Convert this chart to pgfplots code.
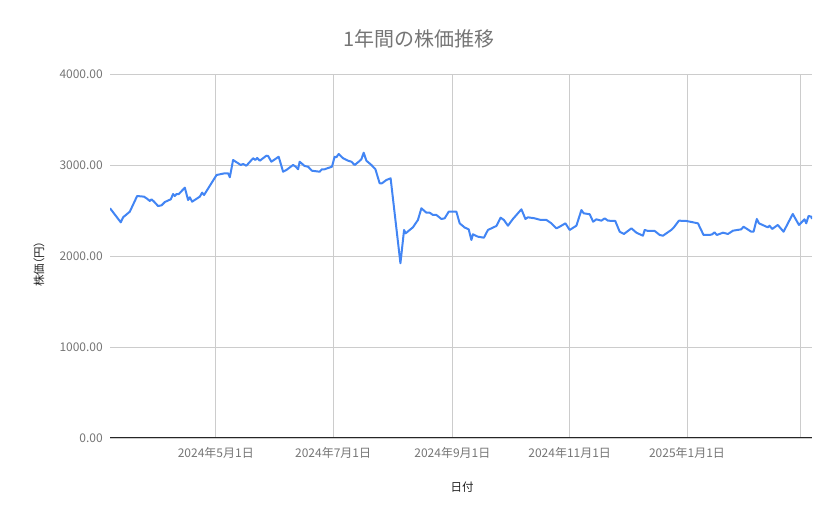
\documentclass[border=0pt]{standalone}
\usepackage{fontspec}
\setmainfont{Noto Sans CJK JP}
\newfontfamily\cjkp[RawFeature=+palt]{Noto Sans CJK JP}
\usepackage{pgfplots}
\pgfplotsset{compat=1.18}
\usepackage{pgfplotstable}

\definecolor{lineblue}{HTML}{4285F4}
\definecolor{ticktext}{HTML}{757575}
\definecolor{gridgray}{HTML}{CCCCCC}
\definecolor{labeltext}{HTML}{222222}

% day = days since 2024-03-07, price in yen
\pgfplotstableread{
day price
0 2525
5.6 2370
6.8 2425
10.3 2487
14.1 2659
17.7 2652
19.5 2626
20.7 2604
21.6 2623
22.9 2597
25.0 2549
26.8 2557
28.5 2593
31.6 2623
32.8 2681
33.7 2659
34.6 2681
35.8 2681
38.9 2751
40.6 2615
41.5 2645
42.7 2597
46.7 2652
47.9 2696
48.9 2670
55.4 2890
59.7 2909
61.4 2909
62.3 2865
64.0 3055
66.6 3019
68.0 3000
69.2 3011
70.9 2992
74.4 3074
75.6 3055
76.5 3077
77.9 3047
81.3 3102
82.2 3099
83.9 3036
87.7 3091
90.0 2926
91.7 2945
95.2 3000
96.6 2981
97.8 2953
98.6 3036
101.2 2989
103.0 2981
105.0 2937
109.0 2926
110.2 2953
111.6 2953
113.4 2967
115.4 2981
116.8 3091
117.7 3085
118.9 3121
121.2 3074
123.8 3047
125.5 3036
127.2 3000
129.3 3036
130.7 3063
131.9 3135
133.3 3047
135.9 3000
138.0 2953
140.2 2799
141.4 2799
143.7 2835
145.9 2854
151.0 1920
152.9 2286
153.7 2249
157.5 2315
160.1 2396
161.9 2524
164.5 2476
166.2 2476
167.9 2451
169.7 2451
172.3 2407
174.0 2414
176.1 2487
180.1 2487
181.8 2359
184.4 2313
186.5 2293
187.9 2176
188.7 2238
191.3 2212
194.4 2201
196.5 2286
200.9 2330
203.1 2421
204.8 2396
206.9 2333
209.5 2407
213.9 2513
216.0 2407
217.3 2425
220.8 2414
223.9 2396
226.9 2396
229.5 2359
232.1 2304
233.8 2322
236.8 2359
239.0 2286
242.5 2333
245.1 2505
246.3 2469
249.4 2459
251.2 2377
252.9 2403
255.5 2388
257.2 2414
258.9 2388
262.7 2385
265.0 2267
267.2 2242
271.1 2304
273.7 2256
277.1 2223
278.0 2286
279.7 2275
283.2 2275
285.8 2231
287.5 2223
291.8 2286
293.2 2315
295.8 2388
299.6 2385
305.7 2359
308.6 2231
311.7 2231
313.1 2238
314.3 2260
315.5 2231
318.7 2256
321.3 2242
323.9 2278
328.2 2293
329.4 2322
333.4 2267
334.6 2267
336.3 2407
337.4 2359
342.0 2315
342.9 2333
344.3 2297
347.2 2341
350.2 2267
355.0 2462
358.2 2341
361.1 2403
362.0 2359
363.2 2440
364.6 2432
365.0 2407
}\pricedata

\begin{document}
\begin{tikzpicture}[x=1bp,y=1bp]
\useasboundingbox (0,0) rectangle (839,519);
\begin{axis}[
    at={(110bp,81bp)}, anchor=south west,
    scale only axis,
    width=702bp, height=364bp,
    xmin=0, xmax=365,
    ymin=0, ymax=4000,
    xtick={55,116,178,239,300,359},
    xticklabels={2024年5月1日,2024年7月1日,2024年9月1日,2024年11月1日,2025年1月1日,{}},
    ytick={0,1000,2000,3000,4000},
    yticklabels={0.00,1000.00,2000.00,3000.00,4000.00},
    grid=major,
    major grid style={gridgray, line width=0.8bp},
    major tick length=0pt,
    axis line style={draw=none},
    tick label style={font=\fontsize{12bp}{14bp}\selectfont, text=ticktext},
    xticklabel style={anchor=base, inner sep=0pt, yshift=-19.5bp},
    yticklabel style={anchor=east, inner sep=0pt, xshift=-7bp},
  ]
  \draw[black!85, line width=1bp] (rel axis cs:0,0) -- (rel axis cs:1,0);
  \addplot[lineblue, line width=2bp, line join=round, no markers]
    table[x=day, y=price] {\pricedata};
\end{axis}
\node[text=ticktext, font=\fontsize{20bp}{24bp}\selectfont] at (419,480) {1年間の株価推移};
\node[text=labeltext, font=\fontsize{11.5bp}{14bp}\cjkp, rotate=90] at (39,255) {株価（円）};
\node[text=labeltext, font=\fontsize{11.5bp}{14bp}\selectfont] at (462,32) {日付};
\end{tikzpicture}
\end{document}
